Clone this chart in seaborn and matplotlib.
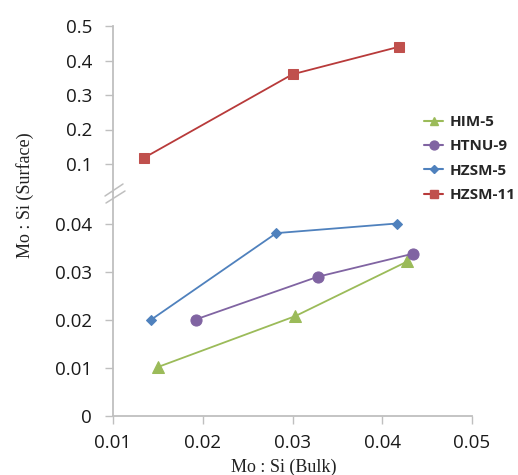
import matplotlib
matplotlib.use("Agg")
import matplotlib.pyplot as plt
import seaborn as sns
import pandas as pd
from matplotlib.lines import Line2D

sns.set_theme(style="white")
plt.rcParams['font.family'] = ['Open Sans', 'DejaVu Sans']

series_names = ["HIM-5", "HTNU-9", "HZSM-5", "HZSM-11"]
him5_x = [0.0150, 0.0303, 0.0428]
him5_y = [0.0102, 0.0208, 0.0322]
htnu9_x = [0.0192, 0.0328, 0.0434]
htnu9_y = [0.0201, 0.0290, 0.0338]
hzsm5_x = [0.0142, 0.0282, 0.0416]
hzsm5_y = [0.0200, 0.0381, 0.0401]
hzsm11_x = [0.0134, 0.0300, 0.0419]
hzsm11_y = [0.117, 0.360, 0.440]

colors = {"HIM-5": "#9BBB59", "HTNU-9": "#8064A2", "HZSM-5": "#4F81BD", "HZSM-11": "#C0504D"}
line_colors = {"HIM-5": "#9BBB59", "HTNU-9": "#8064A2", "HZSM-5": "#4F81BD", "HZSM-11": "#B83A3A"}
markers = {"HIM-5": "^", "HTNU-9": "o", "HZSM-5": "D", "HZSM-11": "s"}
msizes = {"HIM-5": 8, "HTNU-9": 8, "HZSM-5": 5.5, "HZSM-11": 7}

data = {
    "HIM-5": (him5_x, him5_y),
    "HTNU-9": (htnu9_x, htnu9_y),
    "HZSM-5": (hzsm5_x, hzsm5_y),
    "HZSM-11": (hzsm11_x, hzsm11_y),
}

fig = plt.figure(figsize=(5.18, 4.75), dpi=100)
W, H = 518, 475
left = 113 / W
width = (472 - 113) / W
y_break = 192
ax_lo = fig.add_axes([left, 1 - 416 / H, width, (416 - y_break) / H])
ax_hi = fig.add_axes([left, 1 - y_break / H, width, (y_break - 26) / H])

gray = "#BFBFBF"
for name in series_names:
    xs, ys = data[name]
    df = pd.DataFrame({"x": xs, "y": ys})
    ax = ax_hi if name == "HZSM-11" else ax_lo
    sns.lineplot(data=df, x="x", y="y", ax=ax, color=line_colors[name], lw=1.3,
                 marker=markers[name], markersize=msizes[name],
                 markerfacecolor=colors[name], markeredgecolor=colors[name],
                 label=name, sort=False, legend=False)

for ax in (ax_lo, ax_hi):
    ax.set_xlim(0.01, 0.05)
    ax.set_xlabel("")
    ax.set_ylabel("")
    ax.spines['top'].set_visible(False)
    ax.spines['right'].set_visible(False)
    ax.spines['left'].set_color(gray)
    ax.spines['bottom'].set_color(gray)
    ax.spines['left'].set_linewidth(1.3)
    ax.spines['bottom'].set_linewidth(1.3)
    ax.patch.set_alpha(0)
    ax.tick_params(axis='both', colors=gray, labelcolor="#1a1a1a", labelsize=13.5,
                   length=6, width=1, direction='out', left=True, bottom=True)
    ax.tick_params(axis='y', pad=9)
    ax.tick_params(axis='x', pad=7)

ax_lo.set_ylim(0, (416 - y_break) / 4800)
ax_lo.set_yticks([0, 0.01, 0.02, 0.03, 0.04])
ax_lo.set_yticklabels(["0", "0.01", "0.02", "0.03", "0.04"])
ax_lo.set_xticks([0.01, 0.02, 0.03, 0.04, 0.05])
ax_lo.set_xticklabels(["0.01", "0.02", "0.03", "0.04", "0.05"])

ax_hi.set_ylim(0.1 - (y_break - 164) / 345, 0.5)
ax_hi.set_yticks([0.1, 0.2, 0.3, 0.4, 0.5])
ax_hi.set_yticklabels(["0.1", "0.2", "0.3", "0.4", "0.5"])
ax_hi.spines['bottom'].set_visible(False)
ax_hi.tick_params(axis='x', bottom=False, labelbottom=False)

# break marks
for (x0, y0, x1, y1) in [(105, 196, 123, 184), (106, 203, 125, 191)]:
    fig.add_artist(Line2D([x0 / W, x1 / W], [1 - y0 / H, 1 - y1 / H], color=gray, lw=1.1))

fig.text(25 / W, 1 - 195 / H, "Mo : Si (Surface)", rotation=90, ha="center", va="center",
         fontsize=13, family=["Liberation Serif"], color="#222222")
fig.text(284 / W, 1 - 467 / H, "Mo : Si (Bulk)", ha="center", va="center",
         fontsize=13, family=["Liberation Serif"], color="#222222")

handles = []
for name in series_names:
    handles.append(Line2D([], [], color=line_colors[name], lw=1.5, marker=markers[name],
                          markersize=msizes[name] * 0.8, markerfacecolor=colors[name],
                          markeredgecolor=colors[name]))
leg = fig.legend(handles, series_names, loc="upper left", bbox_to_anchor=(424 / W, 1 - 115 / H),
                 frameon=False, prop={"weight": "bold", "size": 11}, handlelength=1.25,
                 handletextpad=0.4, labelspacing=0.68, borderpad=0, borderaxespad=0)

fig.savefig("out.png", dpi=100)
